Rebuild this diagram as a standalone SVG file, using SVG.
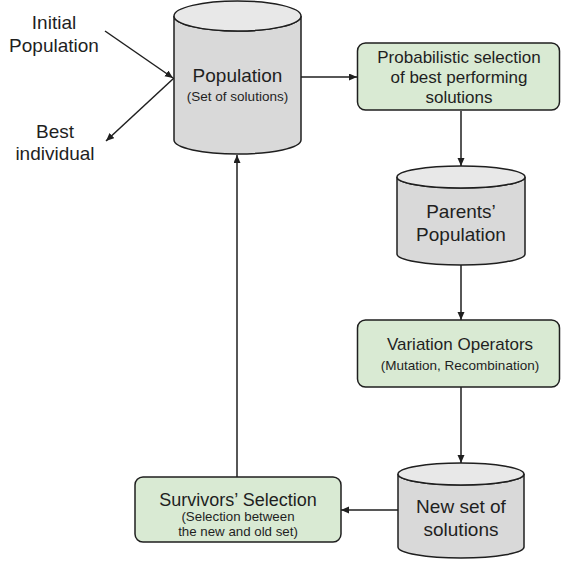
<svg xmlns="http://www.w3.org/2000/svg" width="561" height="562" viewBox="0 0 561 562">
<style>
text{font-family:"Liberation Sans",Arial,sans-serif;fill:#1f1f1f;text-anchor:middle}
.big{font-size:19px}
.mid{font-size:17px}
.sm{font-size:13.5px}
.body{fill:#d9d9d9;stroke:#1f1f1f;stroke-width:1.5}
.top{fill:#e8e8e8;stroke:#1f1f1f;stroke-width:1.5}
.box{fill:#d9ead3;stroke:#1f1f1f;stroke-width:1.5}
.edge{stroke:#1f1f1f;stroke-width:1.5;fill:none;marker-end:url(#arr)}
</style>
<defs>
<marker id="arr" markerUnits="userSpaceOnUse" markerWidth="9" markerHeight="8" refX="8" refY="3.5" orient="auto">
<path d="M0,0 L8,3.5 L0,7 z" fill="#1f1f1f"/>
</marker>
</defs>
<g id="connectors">
<line class="edge" x1="105" y1="31" x2="173" y2="78"/>
<line class="edge" x1="174" y1="78" x2="106" y2="141"/>
<line class="edge" x1="301" y1="77" x2="357" y2="77"/>
<line class="edge" x1="461" y1="111" x2="461" y2="166"/>
<line class="edge" x1="461" y1="265" x2="461" y2="320"/>
<line class="edge" x1="461" y1="387" x2="461" y2="463"/>
<line class="edge" x1="398" y1="510" x2="341" y2="510"/>
<line class="edge" x1="237" y1="477" x2="237" y2="155"/>
</g>
<g id="initial-label">
<text class="big" x="54" y="29">Initial</text>
<text class="big" x="54" y="52">Population</text>
</g>
<g id="best-label">
<text class="big" x="55" y="138">Best</text>
<text class="big" x="55" y="160">individual</text>
</g>
<g id="population">
<path class="body" d="M174,16 A63.5,15 0 0 0 301,16 V140 A63.5,14 0 0 1 174,140 Z"/>
<ellipse class="top" cx="237.5" cy="16" rx="63.5" ry="15"/>
<text class="big" x="237.5" y="82">Population</text>
<text class="sm" x="237.5" y="101">(Set of solutions)</text>
</g>
<g id="selection">
<rect class="box" x="357.5" y="43" width="202" height="67" rx="8"/>
<text class="mid" x="459" y="63">Probabilistic selection</text>
<text class="mid" x="459" y="83">of best performing</text>
<text class="mid" x="459" y="103">solutions</text>
</g>
<g id="parents">
<path class="body" d="M397,177 A64,11 0 0 0 525,177 V254 A64,11 0 0 1 397,254 Z"/>
<ellipse class="top" cx="461" cy="177" rx="64" ry="11"/>
<text class="big" x="461" y="218">Parents’</text>
<text class="big" x="461" y="241">Population</text>
</g>
<g id="variation">
<rect class="box" x="357.5" y="320" width="202" height="67" rx="8"/>
<text class="mid" x="460" y="350">Variation Operators</text>
<text class="sm" x="460" y="370">(Mutation, Recombination)</text>
</g>
<g id="newset">
<path class="body" d="M398,474 A63,11 0 0 0 524,474 V547 A63,11 0 0 1 398,547 Z"/>
<ellipse class="top" cx="461" cy="474" rx="63" ry="11"/>
<text class="big" x="461" y="513">New set of</text>
<text class="big" x="461" y="536">solutions</text>
</g>
<g id="survivors">
<rect class="box" x="135" y="477" width="206" height="65" rx="8"/>
<text x="238" y="506" style="font-size:18px">Survivors’ Selection</text>
<text class="sm" x="238" y="521" style="font-size:13.3px">(Selection between</text>
<text class="sm" x="238" y="536" style="font-size:13.3px">the new and old set)</text>
</g>
</svg>
